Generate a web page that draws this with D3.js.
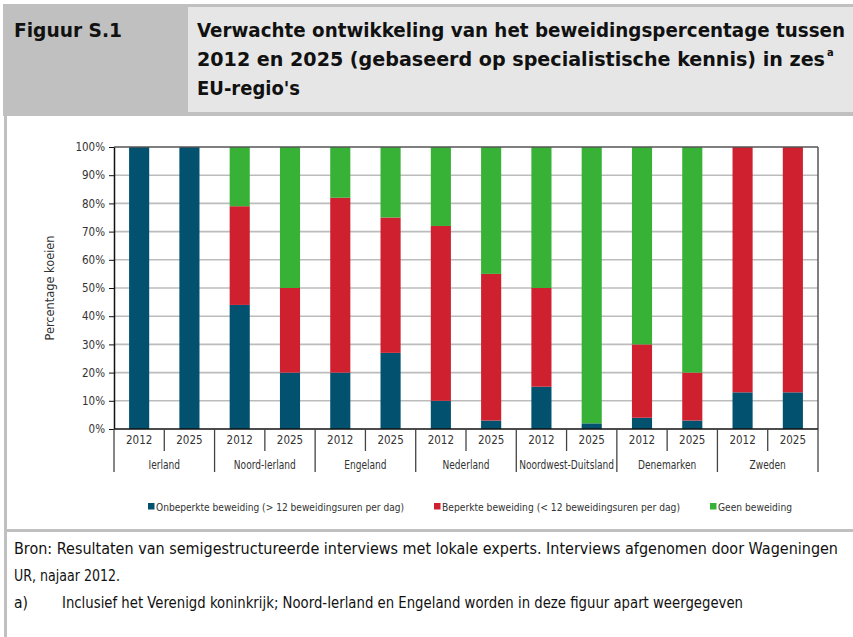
<!DOCTYPE html>
<html>
<head>
<meta charset="utf-8">
<script src="https://cdn.jsdelivr.net/npm/d3@7/dist/d3.min.js"></script>
<style>
  html, body { margin: 0; padding: 0; background: #fff; }
  svg { display: block; }
  text { font-family: "Liberation Sans Narrow", "DejaVu Sans Condensed", "Roboto Condensed", "Liberation Sans", sans-serif; }
</style>
</head>
<body>
<svg id="chart" width="853" height="637"></svg>
<script>
// ---- data ----
const regions = ["Ierland", "Noord-Ierland", "Engeland", "Nederland", "Noordwest-Duitsland", "Denemarken", "Zweden"];
const years = ["2012", "2025"];
const onbeperkt = [100, 100, 44, 20, 20, 27, 10, 3, 15, 2, 4, 3, 13, 13];
const beperkt   = [0, 0, 35, 30, 62, 48, 62, 52, 35, 0, 26, 17, 87, 87];
const geen      = [0, 0, 21, 50, 18, 25, 28, 45, 50, 98, 70, 80, 0, 0];
const seriesNames = ["Onbeperkte beweiding (> 12 beweidingsuren per dag)", "Beperkte beweiding (< 12 beweidingsuren per dag)", "Geen beweiding"];
const yTicks = [0, 10, 20, 30, 40, 50, 60, 70, 80, 90, 100];
const titleLines = ["Verwachte ontwikkeling van het beweidingspercentage tussen", "2012 en 2025 (gebaseerd op specialistische kennis) in zes", "EU-regio's"];
const figLabel = "Figuur S.1";
const yLabel = "Percentage koeien";
const sourceLines = ["Bron: Resultaten van semigestructureerde interviews met lokale experts. Interviews afgenomen door Wageningen", "UR, najaar 2012."];
const noteMark = "a)";
const noteText = "Inclusief het Verenigd koninkrijk; Noord-Ierland en Engeland worden in deze figuur apart weergegeven";

const colors = ["#01516f", "#cf202f", "#37b236"];

const svg = d3.select("#chart");

function fit(sel, w) {
  const n = sel.node();
  const cur = n.getComputedTextLength();
  if (Math.abs(cur - w) > 1) sel.attr("textLength", w).attr("lengthAdjust", "spacingAndGlyphs");
  return sel;
}
function squeeze(sel, k) {
  sel.each(function () {
    const w = this.getComputedTextLength();
    d3.select(this).attr("textLength", w * k).attr("lengthAdjust", "spacingAndGlyphs");
  });
}

// ---- frame ----
svg.append("rect").attr("x", 3).attr("y", 4).attr("width", 850).attr("height", 112).attr("fill", "#c0c0c0");
svg.append("rect").attr("x", 188).attr("y", 7).attr("width", 665).attr("height", 105).attr("fill", "#e6e6e6");
svg.append("rect").attr("x", 4).attr("y", 116).attr("width", 3).attr("height", 521).attr("fill", "#c0c0c0");
svg.append("rect").attr("x", 4).attr("y", 529).attr("width", 849).attr("height", 3).attr("fill", "#c0c0c0");

fit(svg.append("text").attr("x", 14).attr("y", 37).attr("font-size", 19).attr("font-weight", "bold").attr("fill", "#111").text(figLabel), 108);
const tl = [[197, 37, 648], [197, 66, 628], [197, 95, 103]];
titleLines.forEach((t, i) => {
  fit(svg.append("text").attr("x", tl[i][0]).attr("y", tl[i][1]).attr("font-size", 19).attr("font-weight", "bold").attr("fill", "#111").text(t), tl[i][2]);
});
svg.append("text").attr("x", 827).attr("y", 56).attr("font-size", 11).attr("font-weight", "bold").attr("fill", "#111").text("a");

// ---- chart ----
const m = { left: 114, right: 818, top: 147, bottom: 429 };
const labels = d3.range(regions.length * 2);
const x = d3.scaleBand().domain(labels).range([m.left, m.right]).paddingInner(0.6).paddingOuter(0.3);
const y = d3.scaleLinear().domain([0, 100]).range([m.bottom, m.top]);

// gridlines
svg.append("g").selectAll("line").data(yTicks.filter(d => d > 0 && d < 100)).join("line")
  .attr("x1", m.left).attr("x2", m.right).attr("y1", d => y(d)).attr("y2", d => y(d))
  .attr("stroke", "#bcbcbc").attr("stroke-width", 1.6);

const rows = labels.map(i => ({ i, a: onbeperkt[i], b: beperkt[i], c: geen[i] }));
const stack = d3.stack().keys(["a", "b", "c"])(rows);
svg.append("g").selectAll("g").data(stack).join("g").attr("fill", (d, i) => colors[i])
  .selectAll("rect").data(d => d).join("rect")
  .attr("x", d => x(d.data.i)).attr("width", x.bandwidth())
  .attr("y", d => y(d[1])).attr("height", d => y(d[0]) - y(d[1]));

// frame top/right
svg.append("line").attr("x1", m.left).attr("x2", m.right).attr("y1", m.top).attr("y2", m.top).attr("stroke", "#555").attr("stroke-width", 1.5);
svg.append("line").attr("x1", m.right).attr("x2", m.right).attr("y1", m.top).attr("y2", m.bottom).attr("stroke", "#555").attr("stroke-width", 1.5);

// y axis
const yAxis = svg.append("g").attr("transform", `translate(${m.left},0)`)
  .call(d3.axisLeft(y).tickValues(yTicks).tickFormat(d => d + "%").tickSize(5).tickSizeOuter(0));
yAxis.select(".domain").attr("stroke", "#111").attr("stroke-width", 1.5);
yAxis.selectAll(".tick line").attr("stroke", "#111");
yAxis.selectAll(".tick text").attr("font-size", 11.5).attr("fill", "#333").attr("x", -9)
  .style("font-family", '"Liberation Sans Narrow", "DejaVu Sans Condensed", sans-serif');

fit(svg.append("text").attr("transform", `translate(54,${(m.top + m.bottom) / 2}) rotate(-90)`)
  .attr("text-anchor", "middle").attr("font-size", 12.5).attr("fill", "#333").text(yLabel), 105);

// x axis (multi-level)
const xa = svg.append("g");
xa.append("line").attr("x1", m.left).attr("x2", m.right).attr("y1", m.bottom).attr("y2", m.bottom).attr("stroke", "#111").attr("stroke-width", 1.5);
const step = x.step();
const bounds = d3.range(labels.length + 1);
xa.selectAll("line.sep").data(bounds).join("line").attr("class", "sep")
  .attr("x1", d => m.left + d * step).attr("x2", d => m.left + d * step)
  .attr("y1", m.bottom).attr("y2", d => d % 2 === 0 ? 472 : 451)
  .attr("stroke", "#444").attr("stroke-width", 1.3);
xa.selectAll("text.yr").data(labels).join("text").attr("class", "yr")
  .attr("x", d => x(d) + x.bandwidth() / 2).attr("y", 444).attr("text-anchor", "middle")
  .attr("font-size", 11.5).attr("fill", "#333").text(d => years[d % 2]);
const rg = xa.selectAll("text.rg").data(regions).join("text").attr("class", "rg")
  .attr("x", (d, i) => m.left + (2 * i + 1) * step).attr("y", 469).attr("text-anchor", "middle")
  .attr("font-size", 11.5).attr("fill", "#333").text(d => d);
const nw = rg.filter(d => d === "Noord-Ierland").node().getComputedTextLength();
squeeze(rg, 62 / nw);

// legend
const lg = [[148, 156, 248], [434, 442, 238], [710, 718, 74]];
seriesNames.forEach((n, i) => {
  svg.append("rect").attr("x", lg[i][0]).attr("y", 503).attr("width", 6.5).attr("height", 6.5).attr("fill", colors[i]);
  fit(svg.append("text").attr("x", lg[i][1]).attr("y", 511).attr("font-size", 10.5).attr("fill", "#333").text(n), lg[i][2]);
});

// source
fit(svg.append("text").attr("x", 14).attr("y", 554).attr("font-size", 15.5).attr("fill", "#111").text(sourceLines[0]), 824);
fit(svg.append("text").attr("x", 14).attr("y", 581).attr("font-size", 15.5).attr("fill", "#111").text(sourceLines[1]), 106);
svg.append("text").attr("x", 14).attr("y", 608).attr("font-size", 15.5).attr("fill", "#111").text(noteMark);
fit(svg.append("text").attr("x", 62).attr("y", 608).attr("font-size", 15.5).attr("fill", "#111").text(noteText), 681);
</script>
</body>
</html>
